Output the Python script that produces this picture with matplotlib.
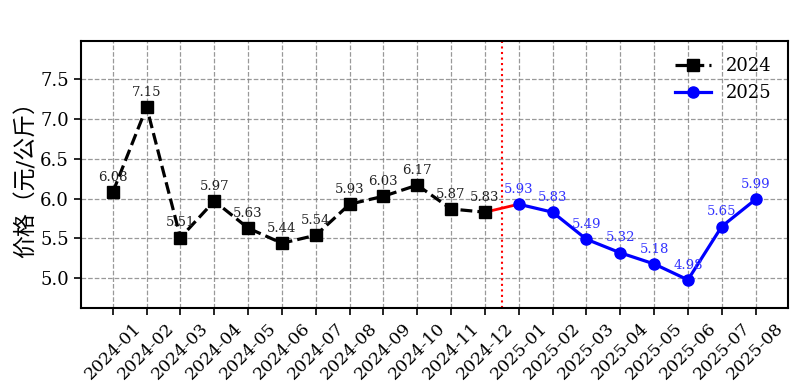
import matplotlib
matplotlib.use("Agg")
import matplotlib.pyplot as plt

plt.rcParams['font.family'] = ['DejaVu Serif', 'Noto Sans CJK SC']
plt.rcParams['axes.unicode_minus'] = False

# данные
months_2024 = ['2024-01', '2024-02', '2024-03', '2024-04', '2024-05', '2024-06',
               '2024-07', '2024-08', '2024-09', '2024-10', '2024-11', '2024-12']
months_2025 = ['2025-01', '2025-02', '2025-03', '2025-04', '2025-05', '2025-06',
               '2025-07', '2025-08']
prices_2024 = [6.08, 7.15, 5.51, 5.97, 5.63, 5.44, 5.54, 5.93, 6.03, 6.17, 5.87, 5.83]
prices_2025 = [5.93, 5.83, 5.49, 5.32, 5.18, 4.98, 5.65, 5.99]

all_months = months_2024 + months_2025
x24 = list(range(len(months_2024)))
x25 = list(range(len(months_2024), len(all_months)))

fig = plt.figure(figsize=(8.01, 3.92), dpi=100)
ax = fig.add_axes([0.1007, 0.215, 0.8827, 0.6804])

ax.plot(x24, prices_2024, color='black', linestyle='--', linewidth=2.3,
        marker='s', markersize=9, label='2024', zorder=3)
ax.plot(x25, prices_2025, color='blue', linestyle='-', linewidth=2.3,
        marker='o', markersize=8, label='2025', zorder=3)
# соединение 2024-12 и 2025-01
ax.plot([x24[-1], x25[0]], [prices_2024[-1], prices_2025[0]], color='red',
        linewidth=2, zorder=2)
ax.axvline(len(months_2024) - 0.5, color='red', linestyle=':', linewidth=1.5)

for x, y in zip(x24, prices_2024):
    ax.annotate(f'{y:.2f}', (x, y), textcoords='offset points', xytext=(0, 6),
                ha='center', va='bottom', fontsize=9.5, color='#222222')
for x, y in zip(x25, prices_2025):
    ax.annotate(f'{y:.2f}', (x, y), textcoords='offset points', xytext=(0, 6),
                ha='center', va='bottom', fontsize=9.5, color='#3333ff')

ax.set_xticks(range(len(all_months)))
ax.set_xticklabels(all_months, rotation=45, fontsize=12.5)
ax.set_yticks([5.0, 5.5, 6.0, 6.5, 7.0, 7.5])
ax.set_yticklabels(['5.0', '5.5', '6.0', '6.5', '7.0', '7.5'], fontsize=13)
ax.set_xlim(-0.95, 19.95)
ax.set_ylim(4.63, 7.98)
ax.set_ylabel('价格（元/公斤）', fontsize=16.5, labelpad=2)
ax.tick_params(length=5, width=1.2)
for s in ax.spines.values():
    s.set_linewidth(1.5)

ax.grid(True, color='gray', linestyle='--', linewidth=0.9, alpha=0.8)
ax.legend(loc='upper right', frameon=False, fontsize=13)

plt.savefig('out.png', dpi=100)
